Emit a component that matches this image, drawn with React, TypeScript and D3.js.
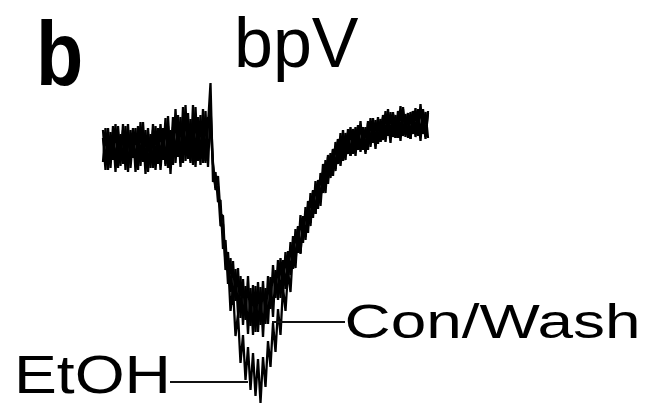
import React from 'react';
import * as d3 from 'd3';

// Sampled traces (arbitrary units, 0 = pre-stimulus baseline, negative = downward)
const conValues = [18,-16,12,-20,22,-14,10,-18,24,-22,
16,-12,20,-24,14,-18,26,-16,12,-20,
18,-22,14,-10,20,-18,22,-26,21,-9,
33,-15,29,-7,35,-13,25,-19,31,-11,
27,-15,23,65,-34,-24,-54,-52,-101,-92,
-136,-110,-157,-121,-166,-128,-177,-138,-186,-140,
-187,-138,-184,-139,-189,-140,-176,-129,-169,-122,
-152,-110,-143,-104,-134,-94,-121,-81,-105,-67,
-95,-59,-85,-45,-70,-33,-61,-25,-45,-12,
-36,-5,-28,6,-16,15,-13,15,-6,21,
-6,21,-2,27,-2,21,-2,30,5,28,
4,29,8,37,12,36,11,33,10,42,
12,34,10,36,14,40,12,44,14,36,
10];

const washValues = [-14,20,-22,16,-12,24,-20,14,-16,22,
-24,18,-10,20,-22,26,-14,18,-24,14,
-20,22,-16,24,-12,30,-20,18,-17,39,
-9,31,-15,43,-11,29,-17,41,-13,33,
-15,37,-19,40,-16,-40,-28,-66,-68,-116,
-104,-144,-113,-153,-120,-170,-131,-172,-128,-178,
-137,-184,-134,-177,-133,-176,-128,-161,-117,-150,
-112,-150,-112,-141,-103,-127,-88,-114,-78,-106,
-68,-92,-58,-78,-43,-66,-34,-58,-24,-45,
-9,-30,-1,-23,9,-18,8,-12,19,-8,
17,-8,21,-4,19,-6,27,1,24,-1,
31,6,31,6,29,5,36,10,33,7,
41,11,35,9,37,11,33,7,39,9,
35];

const etohValues = [10,-22,20,-12,16,-24,22,-10,18,-14,
24,-20,12,-16,22,-12,18,-26,20,-14,
24,-16,20,-22,12,-16,32,-14,31,-15,
23,-19,41,-13,27,-15,43,-9,25,-17,
39,-13,31,20,-16,-42,-38,-78,-76,-122,
-112,-163,-140,-188,-166,-215,-187,-232,-199,-242,
-205,-248,-211,-255,-209,-239,-193,-219,-175,-204,
-161,-187,-139,-163,-123,-144,-100,-120,-79,-105,
-70,-89,-53,-75,-42,-66,-32,-52,-16,-37,
-7,-28,-1,-21,9,-10,18,-8,15,-8,
19,-2,23,-2,21,-4,25,5,30,5,
29,6,33,12,39,11,34,10,37,15,
39,13,35,9,37,15,39,13,35,11,
37];

const panelLabel = 'b';
const titleText = 'bpV';
const conWashLabel = 'Con/Wash';
const etohLabel = 'EtOH';

// annotation anchors (sample index, value)
const conWashAnchor = { index: 68, value: -174 };
const etohAnchor = { index: 58, value: -234 };

const FONT = "'Liberation Sans', Arial, Helvetica, sans-serif";

export default function App() {
  const W = 650;
  const H = 406;
  const x = d3.scaleLinear().domain([0, conValues.length - 1]).range([103, 428]);
  const y = d3.scaleLinear().domain([0, -250]).range([148, 398]);
  const line = d3
    .line<number>()
    .x((_, i) => x(i))
    .y((d) => y(d));

  const traces = [conValues, washValues, etohValues];

  return (
    <svg
      width={W}
      height={H}
      viewBox={`0 0 ${W} ${H}`}
      style={{ position: 'absolute', left: 0, top: 0, background: '#fff' }}
    >
      <rect x={0} y={0} width={W} height={H} fill="#fff" />
      {traces.map((t, k) => (
        <path key={k} d={line(t) || ''} fill="none" stroke="#000" strokeWidth={2.3} strokeLinejoin="miter" strokeMiterlimit={2} />
      ))}
      {/* annotation leader lines */}
      <line
        x1={x(conWashAnchor.index) - 1}
        x2={345}
        y1={y(conWashAnchor.value)}
        y2={y(conWashAnchor.value)}
        stroke="#111"
        strokeWidth={1.8}
      />
      <line
        x1={170}
        x2={x(etohAnchor.index)}
        y1={y(etohAnchor.value)}
        y2={y(etohAnchor.value)}
        stroke="#111"
        strokeWidth={1.8}
      />
      <g transform="translate(36,85) scale(0.86,1)">
        <text x={0} y={0} fontFamily={FONT} fontWeight="bold" fontSize={90} fill="#000">
          {panelLabel}
        </text>
      </g>
      <text x={234} y={67} fontFamily={FONT} fontSize={70} fill="#000">
        {titleText}
      </text>
      <text
        x={344.5}
        y={337.5}
        fontFamily={FONT}
        fontSize={49}
        fill="#000"
        textLength={296}
        lengthAdjust="spacingAndGlyphs"
      >
        {conWashLabel}
      </text>
      <text
        x={14}
        y={393}
        fontFamily={FONT}
        fontSize={53}
        fill="#000"
        textLength={157}
        lengthAdjust="spacingAndGlyphs"
      >
        {etohLabel}
      </text>
    </svg>
  );
}
